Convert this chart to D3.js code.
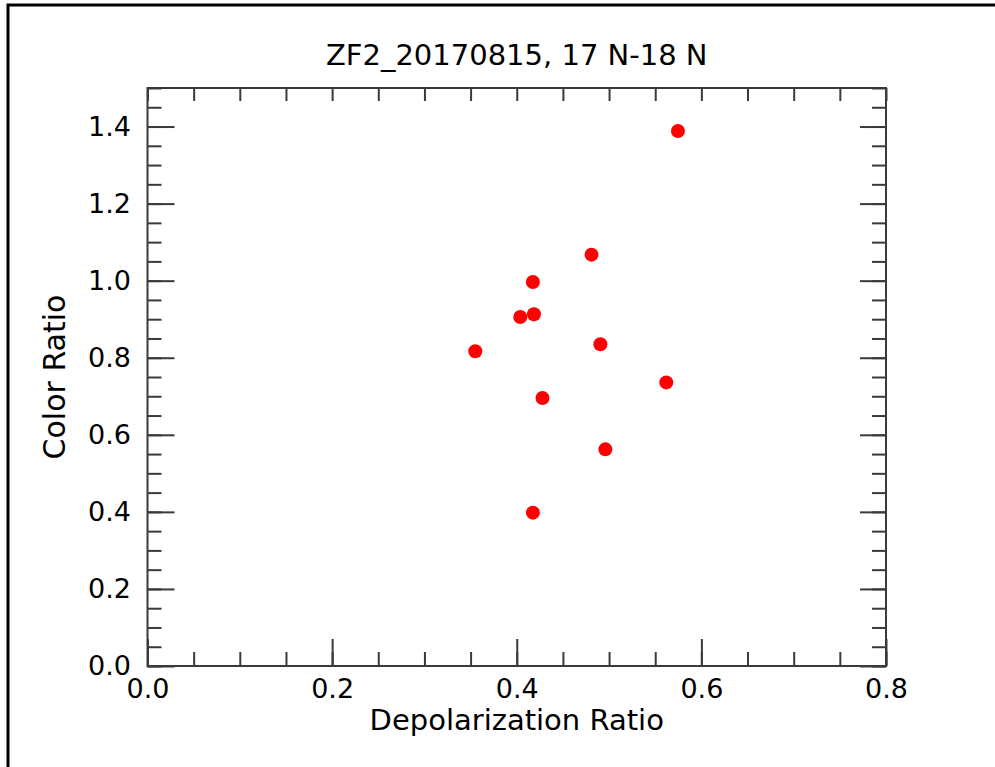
<!DOCTYPE html>
<html>
<head>
<meta charset="utf-8">
<script src="https://cdn.jsdelivr.net/npm/d3@7"></script>
<style>
  html, body { margin: 0; padding: 0; background: #fff; }
  svg { display: block; font-family: "DejaVu Sans", sans-serif; }
</style>
</head>
<body>
<svg id="chart" width="995" height="767"></svg>
<script>
// Depolarization ratio vs color ratio, ZF2 flight 2017-08-15, 17 N-18 N
const depolarization = [0.481, 0.4175, 0.4038, 0.4186, 0.3551, 0.4906, 0.562, 0.4279, 0.496, 0.4175, 0.5746];
const colorRatio     = [1.0675, 0.9966, 0.9058, 0.9128, 0.8167, 0.835, 0.736, 0.6956, 0.5623, 0.398, 1.3885];

const xMajorTicks = [0.0, 0.2, 0.4, 0.6, 0.8];
const yMajorTicks = [0.0, 0.2, 0.4, 0.6, 0.8, 1.0, 1.2, 1.4];
const minorStep = 0.05;

const titleText = "ZF2_20170815, 17 N-18 N";
const xLabel = "Depolarization Ratio";
const yLabel = "Color Ratio";

const svg = d3.select("#chart");
const plot = { left: 147.5, right: 886, top: 88, bottom: 666 };

const x = d3.scaleLinear().domain([0, 0.8]).range([plot.left, plot.right]);
const y = d3.scaleLinear().domain([0, 1.5]).range([plot.bottom, plot.top]);

const xMinor = d3.range(0, 0.8 + 1e-9, minorStep);
const yMinor = d3.range(0, 1.5 + 1e-9, minorStep);

const axisColor = "#3a3a3a";
const fmt = d3.format(".1f");

// outer figure frame (open at right and bottom)
svg.append("path")
  .attr("d", "M8,767 L8,5 L995,5")
  .attr("fill", "none")
  .attr("stroke", "#000")
  .attr("stroke-width", 3);

function styleAxis(g) {
  g.select(".domain").remove();
  g.selectAll(".tick line").attr("stroke", axisColor).attr("stroke-width", 2);
  g.selectAll(".tick text").attr("fill", "#000").attr("font-size", 27)
    .attr("font-family", "DejaVu Sans, sans-serif");
}

// bottom axis: minor and major ticks pointing inward
svg.append("g").attr("transform", `translate(0,${plot.bottom})`)
  .call(d3.axisBottom(x).tickValues(xMinor).tickSizeInner(-14).tickSizeOuter(0).tickFormat(""))
  .call(styleAxis);
svg.append("g").attr("transform", `translate(0,${plot.bottom})`)
  .call(d3.axisBottom(x).tickValues(xMajorTicks).tickSizeInner(-27).tickSizeOuter(0)
    .tickPadding(13).tickFormat(fmt))
  .call(styleAxis);

// top axis: short ticks only
svg.append("g").attr("transform", `translate(0,${plot.top})`)
  .call(d3.axisTop(x).tickValues(xMinor).tickSizeInner(-13).tickSizeOuter(0).tickFormat(""))
  .call(styleAxis);

// left axis
svg.append("g").attr("transform", `translate(${plot.left},0)`)
  .call(d3.axisLeft(y).tickValues(yMinor).tickSizeInner(-14).tickSizeOuter(0).tickFormat(""))
  .call(styleAxis);
svg.append("g").attr("transform", `translate(${plot.left},0)`)
  .call(d3.axisLeft(y).tickValues(yMajorTicks).tickSizeInner(-27).tickSizeOuter(0)
    .tickPadding(16.5).tickFormat(fmt))
  .call(styleAxis);

// right axis
svg.append("g").attr("transform", `translate(${plot.right},0)`)
  .call(d3.axisRight(y).tickValues(yMinor).tickSizeInner(-14).tickSizeOuter(0).tickFormat(""))
  .call(styleAxis);
svg.append("g").attr("transform", `translate(${plot.right},0)`)
  .call(d3.axisRight(y).tickValues(yMajorTicks).tickSizeInner(-26).tickSizeOuter(0).tickFormat(""))
  .call(styleAxis);

// plot box
svg.append("rect")
  .attr("x", plot.left).attr("y", plot.top)
  .attr("width", plot.right - plot.left).attr("height", plot.bottom - plot.top)
  .attr("fill", "none").attr("stroke", axisColor).attr("stroke-width", 2);

// points
svg.append("g").selectAll("circle")
  .data(depolarization.map((d, i) => ({ x: d, y: colorRatio[i] })))
  .join("circle")
  .attr("cx", d => x(d.x))
  .attr("cy", d => y(d.y))
  .attr("r", 7)
  .attr("fill", "#ff0000");

// title and axis labels
svg.append("text")
  .attr("x", (plot.left + plot.right) / 2).attr("y", 65)
  .attr("text-anchor", "middle").attr("font-size", 29)
  .text(titleText);

svg.append("text")
  .attr("x", (plot.left + plot.right) / 2).attr("y", 730)
  .attr("text-anchor", "middle").attr("font-size", 29)
  .text(xLabel);

svg.append("text")
  .attr("transform", `translate(65,${(plot.top + plot.bottom) / 2}) rotate(-90)`)
  .attr("text-anchor", "middle").attr("font-size", 30)
  .text(yLabel);
</script>
</body>
</html>
